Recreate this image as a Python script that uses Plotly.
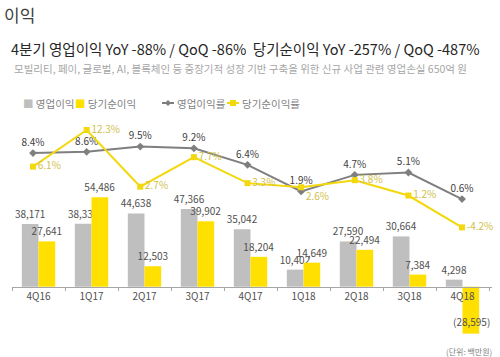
import plotly.graph_objects as go

categories = ["4Q16", "1Q17", "2Q17", "3Q17", "4Q17", "1Q18", "2Q18", "3Q18", "4Q18"]
operating_profit = [38171, 38333, 44638, 47366, 35042, 10402, 27590, 30664, 4298]
net_profit = [27641, 54486, 12503, 39902, 18204, 14649, 22494, 7384, -28595]
op_margin = [8.4, 8.6, 9.5, 9.2, 6.4, 1.9, 4.7, 5.1, 0.6]
net_margin = [6.1, 12.3, 2.7, 7.7, 3.3, 2.6, 3.8, 1.2, -4.2]

FONT = "Noto Sans CJK KR"
GRAY_BAR = "#bfbfbf"
YELLOW = "#FFE000"
GRAY_LINE = "#7f7f7f"
YELLOW_LINE = "#F2D80C"
YELLOW_TXT = "#d2c04c"
TXT = "#505050"

W, H = 500, 357
L, R, T, B = 12, 8, 112, 17
PW, PH = W - L - R, H - T - B


def px(x):
    return (x - L) / PW


def py(y):
    return (H - B - y) / PH


def fmt(v):
    return f"{v:,}" if v >= 0 else f"({-v:,})"


fig = go.Figure()

fig.add_trace(go.Bar(
    x=categories, y=operating_profit, name="영업이익",
    marker=dict(color=GRAY_BAR, line=dict(width=0)),
    text=[fmt(v) for v in operating_profit], textposition="outside",
    textfont=dict(size=10, color=TXT, family=FONT),
    constraintext="none", cliponaxis=False,
    xaxis="x", yaxis="y",
))
fig.add_trace(go.Bar(
    x=categories, y=net_profit, name="당기순이익",
    marker=dict(color=YELLOW, line=dict(width=0)),
    text=[fmt(v) if v >= 0 else "" for v in net_profit],
    textposition=["outside" if v >= 0 else "none" for v in net_profit],
    textfont=dict(size=10, color=TXT, family=FONT),
    constraintext="none", cliponaxis=False,
    xaxis="x", yaxis="y",
))
fig.add_trace(go.Scatter(
    x=categories, y=op_margin, name="영업이익률", mode="lines+markers+text",
    line=dict(color=GRAY_LINE, width=2),
    marker=dict(symbol="diamond", size=6, color=GRAY_LINE),
    text=[f"{v}%" for v in op_margin], textposition="top center",
    textfont=dict(size=10, color="#404040", family=FONT),
    cliponaxis=False, xaxis="x2", yaxis="y2",
))
yellow_pos = ["middle right"] * len(net_margin)
yellow_pos[categories.index("1Q18")] = "bottom right"
fig.add_trace(go.Scatter(
    x=categories, y=net_margin, name="당기순이익률", mode="lines+markers+text",
    line=dict(color=YELLOW_LINE, width=2),
    marker=dict(symbol="square", size=6, color=YELLOW_LINE),
    text=[f"{v}%" for v in net_margin], textposition=yellow_pos,
    textfont=dict(size=10, color=YELLOW_TXT, family=FONT),
    cliponaxis=False, xaxis="x2", yaxis="y2",
))

ann = []
for c, v in zip(categories, net_profit):
    if v < 0:
        ann.append(dict(x=c, y=v, xref="x", yref="y", text=fmt(v), showarrow=False,
                        xshift=9, yshift=3, yanchor="bottom",
                        font=dict(size=10, color=TXT, family=FONT)))

ann.append(dict(x=px(2), y=py(15), xref="paper", yref="paper", text="이익", showarrow=False,
                xanchor="left", yanchor="middle", font=dict(size=17, color="#404040", family=FONT)))
ann.append(dict(x=px(9), y=py(49), xref="paper", yref="paper",
                text="4분기 영업이익 YoY -88% / QoQ -86%  당기순이익 YoY -257% / QoQ -487%",
                showarrow=False, xanchor="left", yanchor="middle",
                font=dict(size=14.5, color="#262626", family=FONT)))
ann.append(dict(x=px(12), y=py(68), xref="paper", yref="paper",
                text="모빌리티, 페이, 글로벌, AI, 블록체인 등 중장기적 성장 기반 구축을 위한 신규 사업 관련 영업손실 650억 원",
                showarrow=False, xanchor="left", yanchor="middle",
                font=dict(size=10.5, color="#a6a6a6", family=FONT)))
ann.append(dict(x=px(494), y=py(351), xref="paper", yref="paper", text="(단위: 백만원)",
                showarrow=False, xanchor="right", yanchor="middle",
                font=dict(size=8, color="#7f7f7f", family=FONT)))

leg_y = 103
leg_font = dict(size=10.5, color="#7f7f7f", family=FONT)
ann.append(dict(x=px(21), y=py(leg_y), xref="paper", yref="paper",
                text=f"<span style='color:{GRAY_BAR}'>■</span> 영업이익", showarrow=False,
                xanchor="left", yanchor="middle", font=leg_font))
ann.append(dict(x=px(73), y=py(leg_y), xref="paper", yref="paper",
                text=f"<span style='color:{YELLOW}'>■</span> 당기순이익", showarrow=False,
                xanchor="left", yanchor="middle", font=leg_font))
ann.append(dict(x=px(175), y=py(leg_y), xref="paper", yref="paper", text="영업이익률",
                showarrow=False, xanchor="left", yanchor="middle", font=leg_font))
ann.append(dict(x=px(240), y=py(leg_y), xref="paper", yref="paper", text="당기순이익률",
                showarrow=False, xanchor="left", yanchor="middle", font=leg_font))

shapes = []
for x0, col in [(162, GRAY_LINE), (227, YELLOW_LINE)]:
    shapes.append(dict(type="line", xref="paper", yref="paper", x0=px(x0), x1=px(x0 + 12),
                       y0=py(leg_y), y1=py(leg_y), line=dict(color=col, width=2)))
cx, cy = 168, leg_y
shapes.append(dict(type="path", xref="paper", yref="paper",
                   path=f"M {px(cx-3)} {py(cy)} L {px(cx)} {py(cy-3)} L {px(cx+3)} {py(cy)} L {px(cx)} {py(cy+3)} Z",
                   fillcolor=GRAY_LINE, line=dict(width=0)))
cx = 233
shapes.append(dict(type="rect", xref="paper", yref="paper", x0=px(cx-3), x1=px(cx+3),
                   y0=py(cy+3), y1=py(cy-3), fillcolor=YELLOW_LINE, line=dict(width=0)))

baseline_px = 286.7
k_bar = 0.00164
y_top = (baseline_px - T) / k_bar
y_bot = -(H - B - baseline_px) / k_bar
zero_line_px = 202.6
k_line = 5.9
y2_top = (zero_line_px - T) / k_line
y2_bot = -(H - B - zero_line_px) / k_line

fig.update_layout(
    width=W, height=H,
    margin=dict(l=L, r=R, t=T, b=B, pad=0, autoexpand=False),
    paper_bgcolor="white", plot_bgcolor="white",
    showlegend=False,
    barmode="group", bargap=0.37, bargroupgap=0,
    font=dict(family=FONT, color=TXT),
    xaxis=dict(type="category", anchor="free", position=(H - B - baseline_px) / PH,
               showline=True, linecolor="#a6a6a6", linewidth=1, automargin=False,
               ticks="outside", tickson="boundaries", ticklen=3, tickcolor="#a6a6a6",
               tickfont=dict(size=10, color=TXT, family=FONT), showgrid=False, zeroline=False),
    xaxis2=dict(type="category", overlaying="x", range=[-0.392, 8.559], visible=False),
    yaxis=dict(range=[y_bot, y_top], visible=False, showgrid=False, zeroline=False),
    yaxis2=dict(range=[y2_bot, y2_top], overlaying="y", visible=False, showgrid=False, zeroline=False),
    annotations=ann, shapes=shapes,
)

fig.write_html("out.html", config={"displayModeBar": False},
               post_script="document.body.style.margin='0';document.body.style.overflow='hidden';")
